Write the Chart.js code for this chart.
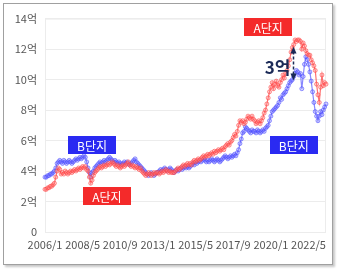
<!DOCTYPE html>
<html>
<head>
<meta charset="utf-8">
<script src="https://cdn.jsdelivr.net/npm/chart.js@4"></script>
<style>
  html, body { margin: 0; padding: 0; background: #fff; }
  #frame {
    position: absolute; left: 3px; top: 3px;
    width: 328px; height: 260px;
    border: 1px solid #a0a0a0;
    box-shadow: 2px 2px 2px #c8c8c8;
    background: #fff;
  }
  #wrap { position: relative; width: 328px; height: 260px; }
</style>
</head>
<body>
<div id="frame"><div id="wrap"><canvas id="trendChart"></canvas></div></div>
<script>
// monthly prices (억), 2006/1 .. 2023/6
const startYear = 2006;
const tickLabels = ['2006/1', '2008/5', '2010/9', '2013/1', '2015/5', '2017/9', '2020/1', '2022/5'];
const yTicks = [0, 2, 4, 6, 8, 10, 12, 14];

const complexA = [
  2.8, 2.8, 2.9, 2.9, 3.0, 3.0, 3.1, 3.2, 3.6, 4.0, 4.2, 4.1,   // 2006
  3.8, 3.9, 3.8, 4.0, 3.9, 3.8, 3.9, 4.0, 3.9, 4.0, 4.1, 4.0,   // 2007
  4.1, 4.2, 4.1, 4.2, 4.3, 4.2, 4.3, 4.1, 4.0, 3.6, 3.2, 3.4,   // 2008
  3.7, 3.9, 4.0, 4.1, 4.2, 4.3, 4.2, 4.3, 4.4, 4.3, 4.4, 4.5,   // 2009
  4.4, 4.5, 4.6, 4.5, 4.4, 4.3, 4.4, 4.3, 4.2, 4.3, 4.4, 4.3,   // 2010
  4.4, 4.5, 4.6, 4.4, 4.3, 4.4, 4.3, 4.2, 4.3, 4.2, 4.1, 4.2,   // 2011
  4.0, 3.9, 3.8, 3.7, 3.8, 3.9, 3.8, 3.7, 3.8, 3.9, 3.8, 3.9,   // 2012
  3.9, 3.8, 3.9, 4.0, 3.9, 4.0, 4.1, 4.0, 3.9, 4.0, 3.9, 3.9,   // 2013
  3.9, 4.0, 4.1, 4.2, 4.1, 4.2, 4.3, 4.4, 4.3, 4.4, 4.5, 4.4,   // 2014
  4.5, 4.4, 4.6, 4.7, 4.6, 4.7, 4.8, 4.7, 4.8, 4.9, 5.0, 4.9,   // 2015
  5.0, 5.1, 5.0, 5.1, 5.2, 5.1, 5.3, 5.2, 5.3, 5.4, 5.3, 5.4,   // 2016
  5.5, 5.4, 5.6, 5.7, 5.8, 5.7, 5.9, 6.0, 6.2, 6.4, 6.3, 6.6,   // 2017
  7.0, 7.3, 7.2, 7.3, 7.1, 7.2, 7.4, 7.6, 7.5, 7.4, 7.6, 7.4,   // 2018
  7.3, 7.1, 7.2, 7.3, 7.1, 7.3, 7.5, 7.8, 8.0, 8.4, 8.8, 9.2,   // 2019
  9.5, 9.8, 9.4, 9.7, 9.9, 9.6, 9.5, 9.8, 10.0, 10.3, 10.1, 10.4, // 2020
  10.6, 10.9, 11.3, 11.8, 12.1, 12.3, 12.6, 12.5, 12.6, 12.6, 12.5, 12.0, // 2021
  12.4, 12.2, 11.9, 11.7, 11.6, 11.6, 11.3, 11.1, 10.9, 10.6, 9.7, 9.0,   // 2022
  8.5, 9.5, 10.3, 9.6, 9.8, 9.7                                   // 2023
];

const complexB = [
  3.6, 3.6, 3.7, 3.7, 3.8, 3.8, 3.9, 4.0, 4.2, 4.5, 4.6, 4.7,   // 2006
  4.6, 4.5, 4.7, 4.6, 4.5, 4.6, 4.7, 4.6, 4.5, 4.6, 4.7, 4.8,   // 2007
  4.7, 4.8, 4.9, 4.8, 4.9, 5.0, 4.9, 4.6, 4.2, 3.9, 3.6, 3.9,   // 2008
  4.0, 4.2, 4.3, 4.4, 4.5, 4.6, 4.5, 4.6, 4.7, 4.6, 4.7, 4.8,   // 2009
  4.9, 4.8, 4.7, 4.6, 4.7, 4.6, 4.5, 4.6, 4.5, 4.4, 4.5, 4.6,   // 2010
  4.5, 4.6, 4.5, 4.4, 4.5, 4.6, 4.7, 4.8, 4.6, 4.5, 4.4, 4.3,   // 2011
  4.2, 4.1, 4.0, 3.9, 3.8, 3.7, 3.8, 3.9, 3.8, 3.7, 3.8, 3.9,   // 2012
  3.9, 4.0, 4.1, 4.0, 4.1, 4.2, 4.1, 4.0, 4.1, 4.2, 4.1, 4.0,   // 2013
  3.9, 4.0, 4.1, 4.0, 4.1, 4.2, 4.1, 4.2, 4.3, 4.2, 4.3, 4.2,   // 2014
  4.3, 4.4, 4.5, 4.4, 4.6, 4.5, 4.6, 4.7, 4.6, 4.7, 4.8, 4.7,   // 2015
  4.6, 4.7, 4.6, 4.7, 4.8, 4.7, 4.6, 4.7, 4.8, 4.7, 4.6, 4.7,   // 2016
  4.8, 4.9, 5.0, 4.9, 4.8, 4.9, 5.0, 4.9, 5.0, 5.1, 5.0, 5.2,   // 2017
  5.4, 5.8, 6.1, 6.5, 6.6, 6.9, 6.8, 6.7, 6.6, 6.5, 6.7, 6.6,   // 2018
  6.6, 6.5, 6.7, 6.6, 6.5, 6.6, 6.7, 6.6, 6.8, 6.9, 7.0, 7.3,   // 2019
  7.6, 7.9, 8.0, 8.1, 8.2, 8.3, 8.5, 8.8, 8.7, 9.0, 9.1, 9.2,   // 2020
  9.4, 9.6, 9.8, 9.9, 10.0, 10.2, 10.4, 10.6, 10.5, 10.3, 10.4, 9.4, // 2021
  10.2, 11.0, 11.5, 11.3, 11.0, 10.5, 9.9, 9.2, 8.5, 7.9, 7.6, 7.3, // 2022
  7.6, 7.9, 7.7, 8.0, 8.2, 8.4                                    // 2023
];

const months = complexA.map((_, i) => (startYear + Math.floor(i / 12)) + '/' + (i % 12 + 1));

// annotation boxes, placed in data coordinates (category index, value)
const tags = [
  { text: 'A단지', idx: 166, val: 13.45, color: '#f42a2a' },
  { text: 'B단지', idx: 35, val: 5.7, color: '#2a2af2' },
  { text: 'A단지', idx: 46, val: 2.35, color: '#f42a2a' },
  { text: 'B단지', idx: 185, val: 5.7, color: '#2a2af2' }
];
const gapNote = { text: '3억', textIdx: 173, textVal: 10.8, arrowIdx: 184.5, from: 10.0, to: 12.1 };

const font = '"Noto Sans CJK KR", "Noto Sans", sans-serif';

const overlay = {
  id: 'overlay',
  beforeDatasetsDraw(chart) {
    const { ctx, chartArea: a } = chart;
    ctx.save();
    ctx.strokeStyle = '#ececec';
    ctx.lineWidth = 1;
    ctx.strokeRect(a.left + 0.5, a.top + 0.5, a.right - a.left - 1, a.bottom - a.top);
    ctx.restore();
  },
  afterDatasetsDraw(chart) {
    const { ctx, scales: { x, y } } = chart;
    ctx.save();
    ctx.font = '12px ' + font;
    ctx.textAlign = 'center';
    ctx.textBaseline = 'middle';
    tags.forEach(t => {
      const cx = x.getPixelForValue(t.idx);
      const cy = y.getPixelForValue(t.val);
      ctx.fillStyle = t.color;
      ctx.fillRect(Math.round(cx - 24), Math.round(cy - 9), 48, 18);
      ctx.fillStyle = '#fff';
      ctx.fillText(t.text, cx, cy + 1);
    });

    // gap arrow
    const ax = Math.round(x.getPixelForValue(gapNote.arrowIdx)) + 0.5;
    const y1 = y.getPixelForValue(gapNote.from);
    const y2 = y.getPixelForValue(gapNote.to);
    ctx.strokeStyle = '#1b2a57';
    ctx.fillStyle = '#1b2a57';
    ctx.lineWidth = 1.5;
    ctx.setLineDash([3, 2]);
    ctx.beginPath();
    ctx.moveTo(ax, y2 + 4);
    ctx.lineTo(ax, y1 - 4);
    ctx.stroke();
    ctx.setLineDash([]);
    ctx.beginPath();
    ctx.moveTo(ax, y2 - 1); ctx.lineTo(ax - 3, y2 + 6); ctx.lineTo(ax + 3, y2 + 6);
    ctx.closePath(); ctx.fill();
    ctx.beginPath();
    ctx.moveTo(ax, y1 + 1); ctx.lineTo(ax - 3, y1 - 6); ctx.lineTo(ax + 3, y1 - 6);
    ctx.closePath(); ctx.fill();

    ctx.font = 'bold 17px ' + font;
    ctx.fillText(gapNote.text, x.getPixelForValue(gapNote.textIdx), y.getPixelForValue(gapNote.textVal));
    ctx.restore();
  }
};

const ctx = document.getElementById('trendChart').getContext('2d');
const trendChart = new Chart(ctx, {
  type: 'line',
  data: {
    labels: months,
    datasets: [{
      label: 'A단지',
      data: complexA,
      borderColor: 'rgba(255, 55, 55, 0.7)',
      backgroundColor: 'rgba(255, 140, 140, 0.35)',
      pointBorderColor: 'rgba(255, 60, 60, 0.55)',
      borderWidth: 1.2,
      pointRadius: 2,
      pointBorderWidth: 1,
      tension: 0
    }, {
      label: 'B단지',
      data: complexB,
      borderColor: 'rgba(70, 70, 255, 0.65)',
      backgroundColor: 'rgba(130, 130, 255, 0.35)',
      pointBorderColor: 'rgba(70, 70, 255, 0.55)',
      borderWidth: 1.2,
      pointRadius: 2,
      pointBorderWidth: 1,
      tension: 0
    }]
  },
  options: {
    responsive: true,
    maintainAspectRatio: false,
    animation: false,
    layout: { padding: { top: 12, right: 6, left: 0, bottom: 0 } },
    plugins: { legend: { display: false }, tooltip: { enabled: false } },
    scales: {
      x: {
        afterFit(scale) { scale.height = 32; },
        grid: { display: false, drawTicks: false },
        border: { display: false },
        ticks: {
          autoSkip: false,
          maxRotation: 0,
          padding: 6,
          color: '#555',
          font: { family: font, size: 11 },
          callback(v) { const l = months[v]; return tickLabels.includes(l) ? l : ''; }
        }
      },
      y: {
        min: 0,
        max: 14,
        afterBuildTicks(scale) { scale.ticks = yTicks.map(v => ({ value: v })); },
        afterFit(scale) { scale.width = 41; },
        grid: { color: '#ececec', drawTicks: false },
        border: { display: false },
        ticks: {
          padding: 8,
          color: '#555',
          font: { family: font, size: 11 },
          callback(v) { return v === 0 ? '0' : v + '억'; }
        }
      }
    }
  },
  plugins: [overlay]
});
</script>
</body>
</html>
